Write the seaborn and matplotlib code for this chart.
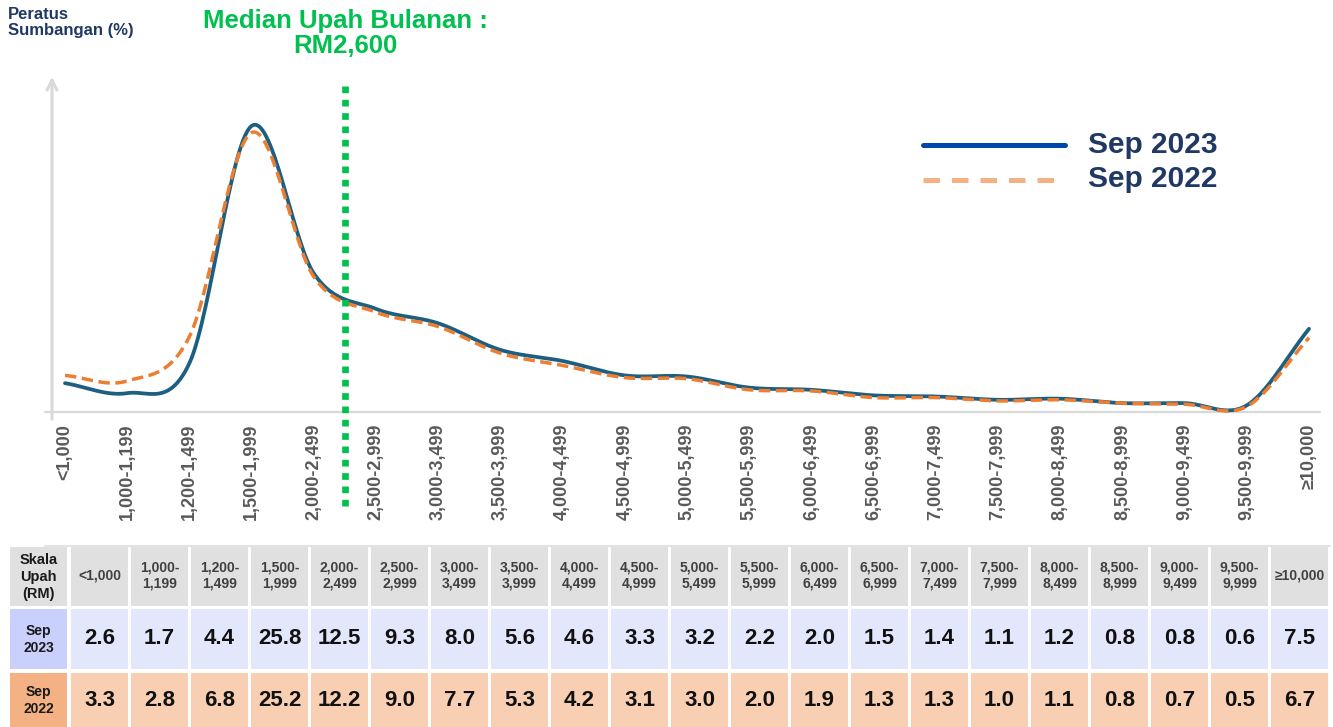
import numpy as np
import pandas as pd
import matplotlib
matplotlib.use("Agg")
import matplotlib.pyplot as plt
from matplotlib.patches import Rectangle
import seaborn as sns

# ---------------- data ----------------
categories = ["<1,000", "1,000-1,199", "1,200-1,499", "1,500-1,999", "2,000-2,499",
              "2,500-2,999", "3,000-3,499", "3,500-3,999", "4,000-4,499", "4,500-4,999",
              "5,000-5,499", "5,500-5,999", "6,000-6,499", "6,500-6,999", "7,000-7,499",
              "7,500-7,999", "8,000-8,499", "8,500-8,999", "9,000-9,499", "9,500-9,999",
              "≥10,000"]
table_headers = ["<1,000", "1,000-\n1,199", "1,200-\n1,499", "1,500-\n1,999", "2,000-\n2,499",
                 "2,500-\n2,999", "3,000-\n3,499", "3,500-\n3,999", "4,000-\n4,499", "4,500-\n4,999",
                 "5,000-\n5,499", "5,500-\n5,999", "6,000-\n6,499", "6,500-\n6,999", "7,000-\n7,499",
                 "7,500-\n7,999", "8,000-\n8,499", "8,500-\n8,999", "9,000-\n9,499", "9,500-\n9,999",
                 "≥10,000"]
sep2023 = [2.6, 1.7, 4.4, 25.8, 12.5, 9.3, 8.0, 5.6, 4.6, 3.3, 3.2, 2.2, 2.0, 1.5, 1.4,
           1.1, 1.2, 0.8, 0.8, 0.6, 7.5]
sep2022 = [3.3, 2.8, 6.8, 25.2, 12.2, 9.0, 7.7, 5.3, 4.2, 3.1, 3.0, 2.0, 1.9, 1.3, 1.3,
           1.0, 1.1, 0.8, 0.7, 0.5, 6.7]
series_names = ["Sep 2023", "Sep 2022"]
median_label = "Median Upah Bulanan :\nRM2,600"
median_pos = 4.5
ylabel_text = "Peratus\nSumbangan (%)"

# ---------------- helpers ----------------
def catmull_rom(xs, ys, n=30):
    xs = np.asarray(xs, float); ys = np.asarray(ys, float)
    px = np.concatenate([[2*xs[0]-xs[1]], xs, [2*xs[-1]-xs[-2]]])
    py = np.concatenate([[2*ys[0]-ys[1]], ys, [2*ys[-1]-ys[-2]]])
    ox, oy = [], []
    t = np.linspace(0, 1, n, endpoint=False)
    for i in range(1, len(px)-2):
        p0, p1, p2, p3 = [np.array([px[j], py[j]]) for j in (i-1, i, i+1, i+2)]
        c1 = p1 + (p2 - p0) / 6
        c2 = p2 - (p3 - p1) / 6
        b = ((1-t)**3)[:, None]*p1 + (3*(1-t)**2*t)[:, None]*c1 + (3*(1-t)*t**2)[:, None]*c2 + (t**3)[:, None]*p2
        ox.extend(b[:, 0]); oy.extend(b[:, 1])
    ox.append(xs[-1]); oy.append(ys[-1])
    return np.array(ox), np.array(oy)

sns.set_theme(style="white")
plt.rcParams['font.family'] = ['Liberation Sans', 'DejaVu Sans']

W, H = 1333, 727
fig = plt.figure(figsize=(W/100, H/100), dpi=100)

# chart axes in pixel placement
L, R, T, B = 40, 1325, 60, 430
ax = fig.add_axes([L/W, 1-B/H, (R-L)/W, (B-T)/H])
x0px, dxpx = 65, 62.2
ypx0, ypx_per = 412, 11.09
ax.set_xlim(-(x0px-L)/dxpx, 20 + (R-(x0px+20*dxpx))/dxpx)
ax.set_ylim(-(B-ypx0)/ypx_per, (ypx0-T)/ypx_per)
ax.axis("off")

xs = np.arange(len(categories))
sx, sy = catmull_rom(xs, sep2022)
df22 = pd.DataFrame({"x": sx, "y": sy})
sx3, sy3 = catmull_rom(xs, sep2023)
df23 = pd.DataFrame({"x": sx3, "y": sy3})

sns.lineplot(data=df23, x="x", y="y", ax=ax, sort=False, color="#1d5f80", lw=2.7,
             solid_capstyle="round", zorder=3)
sns.lineplot(data=df22, x="x", y="y", ax=ax, sort=False, color="#ed7d31", lw=2.5,
             dashes=False, zorder=4)
ax.lines[-1].set_linestyle((0, (3.3, 1.6)))

# baseline and y-axis arrow
ax.plot([-(65-45)/dxpx, 20 + (1320-1309)/dxpx], [0, 0], color="#d9d9d9", lw=1.6, zorder=1)
ax.annotate("", xy=(-(65-52)/dxpx, (412-74)/ypx_per), xytext=(-(65-52)/dxpx, -(422-412)/ypx_per),
            arrowprops=dict(arrowstyle="->", color="#d9d9d9", lw=2.2, mutation_scale=18), zorder=1)

# median line
ax.plot([median_pos, median_pos], [(412-86)/ypx_per, -(512-412)/ypx_per], color="#00c050",
        lw=4.8, linestyle=(0, (1, 1.0)), clip_on=False, zorder=5)

# x tick labels
for i, c in enumerate(categories):
    ax.text(i, -(424-412)/ypx_per, c, rotation=90, ha="center", va="top", fontsize=13,
            fontweight="bold", color="#595959", clip_on=False)

# texts
fig.text(8/W, 1-7/H, ylabel_text, ha="left", va="top", fontsize=12, fontweight="bold",
         color="#1f3864", linespacing=1.1)
fig.text(345/W, 1-9/H, median_label, ha="center", va="top", fontsize=18.5, fontweight="bold",
         color="#00c050", linespacing=1.05)

# legend (manual)
fig.add_artist(plt.Line2D([923/W, 1065/W], [1-145/H, 1-145/H], color="#0047ab", lw=3.6))
fig.add_artist(plt.Line2D([923/W, 1065/W], [1-180/H, 1-180/H], color="#f4b183", lw=3.6,
                          linestyle=(0, (3.3, 2.4))))
fig.text(1088/W, 1-145/H, series_names[0], ha="left", va="center", fontsize=21.5,
         fontweight="bold", color="#1f3864")
fig.text(1088/W, 1-179/H, series_names[1], ha="left", va="center", fontsize=21.5,
         fontweight="bold", color="#1f3864")

# ---------------- table ----------------
tax = fig.add_axes([0, 0, 1, 1])
tax.set_xlim(0, W); tax.set_ylim(H, 0); tax.axis("off")
tax.set_zorder(-1)
tax.plot([45, 1330], [545.5, 545.5], color="#e3e3e3", lw=1.5)

rows_y = [(547, 606), (609, 669), (673, 730)]
label_fill = ["#e0e0e0", "#c9d0fb", "#f4b183"]
data_fill = ["#e0e0e0", "#e3e7fc", "#f8cfb3"]
row_labels = ["Skala\nUpah\n(RM)", "Sep\n2023", "Sep\n2022"]
row_values = [table_headers, [f"{v:.1f}" for v in sep2023], [f"{v:.1f}" for v in sep2022]]

for r, (y0, y1) in enumerate(rows_y):
    tax.add_patch(Rectangle((10, y0), 57, y1-y0, color=label_fill[r], lw=0))
    tax.text(38.5, (y0+min(y1, 727))/2 + 0.5, row_labels[r], ha="center", va="center",
             fontsize=10.5 if r == 0 else 10, fontweight="bold", color="#1a1a1a",
             linespacing=1.25 if r == 0 else 1.2)
    for j, val in enumerate(row_values[r]):
        cx0 = 71 + 60*j
        tax.add_patch(Rectangle((cx0, y0), 57, y1-y0, color=data_fill[r], lw=0))
        if r == 0:
            tax.text(cx0+28.5, (y0+y1)/2 - 1, val, ha="center", va="center", fontsize=10,
                     fontweight="bold", color="#404040", linespacing=1.25)
        else:
            tax.text(cx0+28.5, (y0+min(y1, 727))/2, val, ha="center", va="center", fontsize=16,
                     fontweight="bold", color="#111111")

fig.savefig("out.png", dpi=100)
